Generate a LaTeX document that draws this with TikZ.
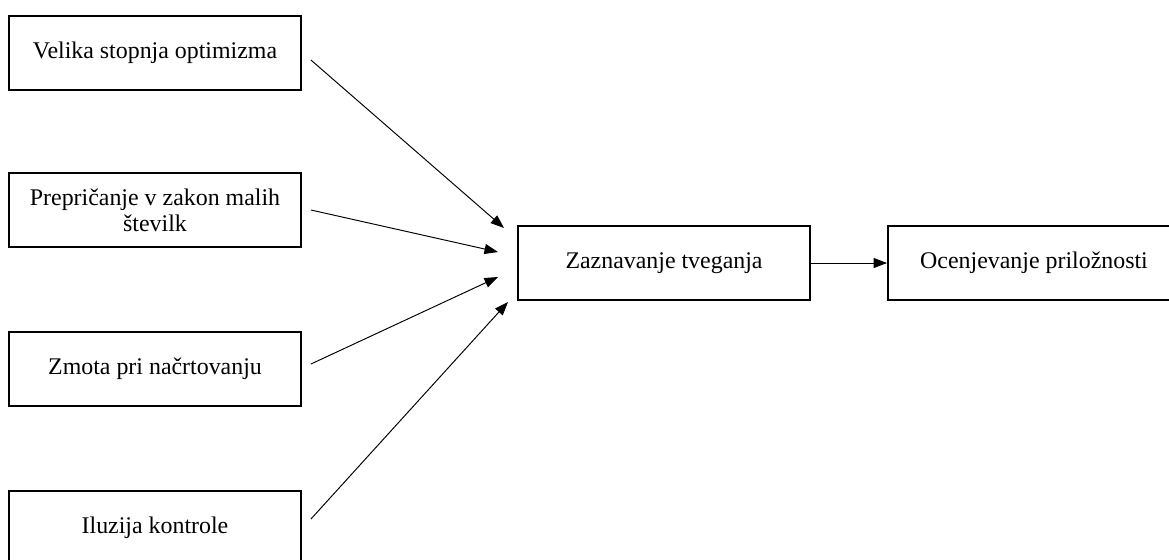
\documentclass[tikz,border=0pt]{standalone}
\usepackage{fontspec}
\setmainfont{Liberation Serif}
\usetikzlibrary{positioning,arrows.meta}

\begin{document}
\begin{tikzpicture}[x=0.02cm, y=-0.02cm,
    box/.style={draw, line width=1.1pt, minimum width=5.84cm, minimum height=1.48cm,
                align=center, inner sep=0pt, font=\fontsize{13.6}{14.6}\selectfont},
    arr/.style={line width=0.55pt, -{Triangle[length=0.27cm, width=0.2cm]}}]
\clip (0,0) rectangle (1169,559);

% Left column
\node[box] (opt) at (155,53)  {Velika stopnja optimizma};
\node[box] (zak) at (155,210) {Prepričanje v zakon malih\\številk};
\node[box] (zmo) at (155,369) {Zmota pri načrtovanju};
\node[box] (ilu) at (155,528) {Iluzija kontrole};

% Middle and right
\node[box] (tve) at (664,263)  {Zaznavanje tveganja};
\node[box] (pri) at (1034,263) {Ocenjevanje priložnosti};

% Arrow ends in front of the middle box
\coordinate (e1) at (504,228);
\coordinate (e2) at (498,252);
\coordinate (e3) at (498,277);
\coordinate (e4) at (508,302);

\draw[arr] ([shift={(9,7)}]opt.east) -- (e1);
\draw[arr] ([shift={(9,0)}]zak.east) -- (e2);
\draw[arr] ([shift={(9,-5)}]zmo.east) -- (e3);
\draw[arr] ([shift={(9,-9)}]ilu.east) -- (e4);
\draw[arr] (tve.east) -- (pri.west);
\end{tikzpicture}
\end{document}
